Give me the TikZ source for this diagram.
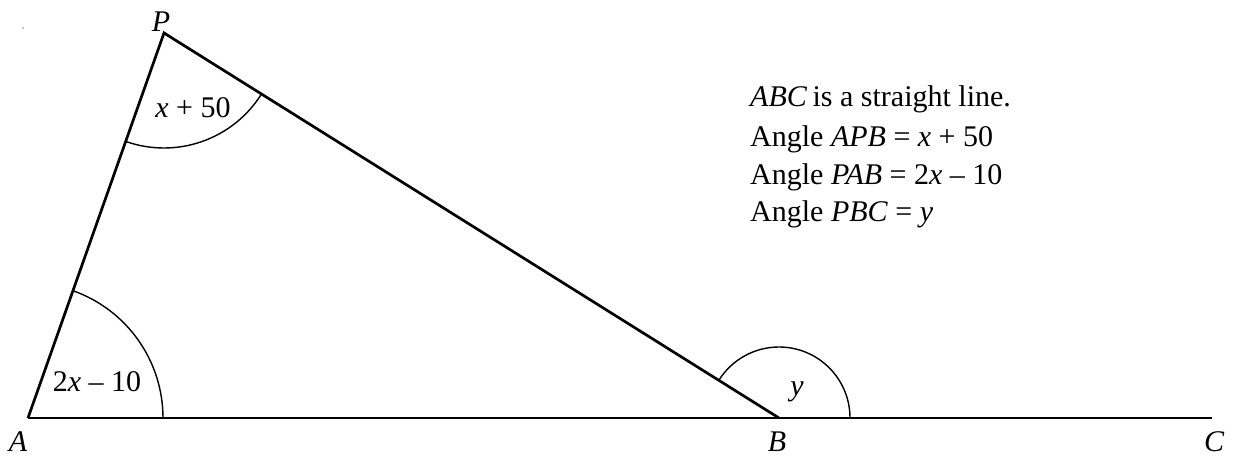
\documentclass[tikz,border=0pt]{standalone}
\usepackage{fontspec}
\setmainfont{Liberation Serif}
\usetikzlibrary{angles}
\begin{document}
\begin{tikzpicture}[x=1pt,y=1pt,
  edge/.style={line width=2.7pt,line join=miter,line cap=butt},
  anglearc/.style={draw,line width=1.4pt},
  vlabel/.style={font=\fontsize{30}{36}\selectfont\itshape,anchor=base,inner sep=0pt},
  alabel/.style={font=\fontsize{30}{36}\selectfont,anchor=base,inner sep=0pt},
  infotext/.style={font=\fontsize{30}{36}\selectfont,anchor=base west,inner sep=0pt}]
\useasboundingbox (0,0) rectangle (1236,457);
\coordinate (A) at (28,39);
\coordinate (P) at (164,424);
\coordinate (B) at (779,39);
\coordinate (C) at (1212,39);
\fill (23,429) circle (0.7pt);
% angle arcs
\pic[anglearc,angle radius=135pt] {angle=B--A--P};
\pic[anglearc,angle radius=115pt] {angle=A--P--B};
\pic[anglearc,angle radius=71pt] {angle=C--B--P};
% lines
\draw[edge] (A) -- (C);
\draw[edge] (A) -- (P) -- (B);
% vertex labels
\node[vlabel] (lP) at (161,425) {P};
\node[vlabel] (lA) at (18,5) {A};
\node[vlabel] (lB) at (777,5) {B};
\node[vlabel] (lC) at (1214,5) {C};
% angle labels
\node[alabel] (l1) at (193,339) {\textit{x} + 50};
\node[alabel] (l2) at (97,65) {2\textit{x} – 10};
\node[alabel] (l3) at (797,61) {\textit{y}};
% info text
\node[infotext] (t1) at (750,350) {\textit{ABC}\hspace{-2pt} is a straight line.};
\node[infotext] (t2) at (750,310) {Angle \textit{APB} = \textit{x} + 50};
\node[infotext] (t3) at (750,272.5) {Angle \textit{PAB} = 2\textit{x} – 10};
\node[infotext] (t4) at (750,235) {Angle \textit{PBC} = \textit{y}};
\end{tikzpicture}
\end{document}
